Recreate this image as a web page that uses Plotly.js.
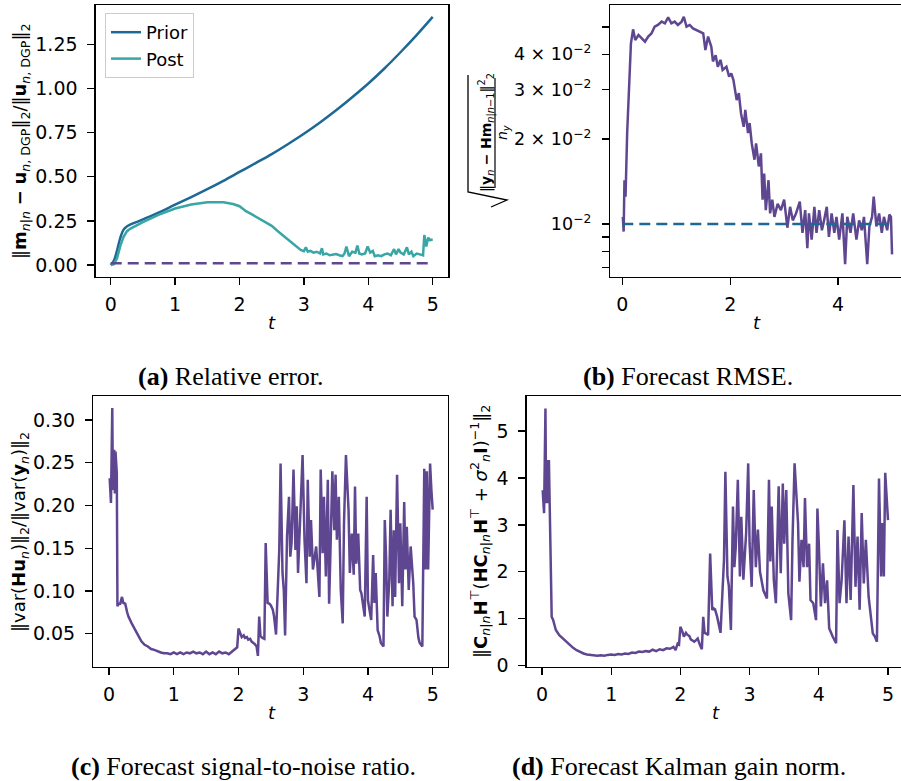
<!DOCTYPE html>
<html>
<head>
<meta charset="utf-8">
<script src="https://cdn.plot.ly/plotly-3.0.1.min.js"></script>
<style>
html,body{margin:0;padding:0;overflow:hidden;background:#fff;}
#chart{width:910px;height:781px;}
</style>
</head>
<body>
<div id="chart"></div>
<script>
// ---------- data ----------
// (a) relative error
const tPrior = [0, 0.05, 0.1, 0.15, 0.2, 0.25, 0.3, 0.4, 0.5, 0.75, 1.0, 1.25, 1.5, 1.75, 2.0, 2.25, 2.5, 2.75, 3.0, 3.25, 3.5, 3.75, 4.0, 4.25, 4.5, 4.75, 5.0];
const priorErr = [0.0, 0.025, 0.085, 0.155, 0.2, 0.218, 0.228, 0.243, 0.258, 0.298, 0.342, 0.385, 0.43, 0.477, 0.527, 0.577, 0.628, 0.684, 0.743, 0.807, 0.876, 0.95, 1.028, 1.113, 1.205, 1.302, 1.405];
const tPost = [0, 0.05, 0.1, 0.15, 0.2, 0.25, 0.3, 0.4, 0.5, 0.75, 1.0, 1.25, 1.5, 1.75, 1.9, 2.0, 2.05, 2.1, 2.2, 2.3, 2.4, 2.5, 2.6, 2.7, 2.8, 2.85, 2.9, 2.95, 3.0, 3.03, 3.06, 3.1, 3.15, 3.2, 3.25, 3.28, 3.3, 3.35, 3.4, 3.45, 3.5, 3.55, 3.6, 3.63, 3.66, 3.7, 3.75, 3.8, 3.83, 3.86, 3.9, 3.95, 3.99, 4.03, 4.07, 4.1, 4.15, 4.2, 4.25, 4.3, 4.35, 4.4, 4.43, 4.47, 4.5, 4.55, 4.6, 4.63, 4.67, 4.7, 4.75, 4.8, 4.85, 4.87, 4.9, 4.93, 4.96, 5.0];
const postErr = [0.0, 0.005, 0.04, 0.11, 0.16, 0.19, 0.205, 0.225, 0.243, 0.285, 0.32, 0.343, 0.355, 0.355, 0.345, 0.333, 0.32, 0.305, 0.285, 0.265, 0.245, 0.222, 0.19, 0.16, 0.13, 0.11, 0.095, 0.085, 0.078, 0.1, 0.075, 0.08, 0.07, 0.075, 0.065, 0.095, 0.06, 0.065, 0.055, 0.06, 0.062, 0.055, 0.05, 0.065, 0.105, 0.05, 0.075, 0.07, 0.11, 0.065, 0.06, 0.065, 0.105, 0.07, 0.08, 0.05, 0.055, 0.05, 0.06, 0.065, 0.055, 0.09, 0.06, 0.09, 0.07, 0.06, 0.1, 0.06, 0.075, 0.05, 0.065, 0.06, 0.055, 0.17, 0.105, 0.155, 0.14, 0.145];
const tRef = [0, 5];
const refErr = [0.01, 0.01];

// (b) forecast RMSE
const tRmse = [0.01, 0.025, 0.04, 0.06, 0.09, 0.13, 0.16, 0.2, 0.24, 0.3, 0.36, 0.42, 0.48, 0.54, 0.6, 0.66, 0.73, 0.79, 0.85, 0.91, 0.97, 1.03, 1.1, 1.14, 1.19, 1.25, 1.31, 1.37, 1.43, 1.5, 1.54, 1.59, 1.65, 1.68, 1.73, 1.77, 1.82, 1.86, 1.93, 1.98, 2.02, 2.06, 2.12, 2.16, 2.2, 2.25, 2.28, 2.33, 2.36, 2.4, 2.45, 2.48, 2.53, 2.57, 2.6, 2.63, 2.66, 2.71, 2.74, 2.78, 2.82, 2.88, 2.94, 3.0, 3.06, 3.11, 3.16, 3.22, 3.29, 3.34, 3.39, 3.43, 3.46, 3.51, 3.56, 3.6, 3.65, 3.7, 3.74, 3.79, 3.83, 3.88, 3.93, 3.97, 4.02, 4.08, 4.13, 4.17, 4.23, 4.28, 4.34, 4.39, 4.44, 4.48, 4.54, 4.58, 4.63, 4.66, 4.71, 4.76, 4.81, 4.85, 4.91, 4.95, 4.98, 5.0];
const rmse = [0.0106, 0.0094, 0.0143, 0.0125, 0.021, 0.0333, 0.0437, 0.049, 0.0449, 0.0468, 0.0455, 0.0443, 0.0462, 0.0474, 0.0501, 0.0508, 0.0522, 0.0515, 0.054, 0.0515, 0.0522, 0.0508, 0.0522, 0.0543, 0.0501, 0.0508, 0.0494, 0.0487, 0.0481, 0.0474, 0.0414, 0.0462, 0.0425, 0.0377, 0.0397, 0.0361, 0.0382, 0.0352, 0.0361, 0.0333, 0.0342, 0.0324, 0.0275, 0.0291, 0.0247, 0.0221, 0.0254, 0.021, 0.0228, 0.0193, 0.0169, 0.0193, 0.016, 0.0178, 0.0122, 0.0151, 0.0112, 0.0143, 0.0109, 0.0122, 0.0106, 0.0118, 0.0112, 0.0122, 0.0097, 0.0115, 0.0103, 0.0109, 0.012, 0.0093, 0.0112, 0.0082, 0.0109, 0.0088, 0.0115, 0.0093, 0.0112, 0.0095, 0.0103, 0.0115, 0.009, 0.0109, 0.0093, 0.0106, 0.0088, 0.0109, 0.0072, 0.0106, 0.0093, 0.0109, 0.0088, 0.0103, 0.0095, 0.0106, 0.0072, 0.0098, 0.0106, 0.0125, 0.0098, 0.0109, 0.0093, 0.0106, 0.0095, 0.0108, 0.0106, 0.0078];
const refRmse = [0.01, 0.01];
const rmseTickVals = [0.007, 0.008, 0.009, 0.01, 0.02, 0.03, 0.04, 0.05, 0.06];
const rmseTickText = ['', '', '', '10<sup>−2</sup>', '2 × 10<sup>−2</sup>', '3 × 10<sup>−2</sup>', '4 × 10<sup>−2</sup>', '', ''];

// (c) signal-to-noise ratio
const tSnr = [0.01, 0.03, 0.05, 0.06, 0.08, 0.09, 0.10, 0.12, 0.13, 0.15, 0.17, 0.20, 0.22, 0.25, 0.28, 0.30, 0.35, 0.40, 0.45, 0.50, 0.55, 0.60, 0.65, 0.70, 0.75, 0.80, 0.85, 0.90, 0.95, 1.00, 1.05, 1.10, 1.15, 1.20, 1.25, 1.30, 1.35, 1.40, 1.45, 1.50, 1.55, 1.60, 1.65, 1.70, 1.75, 1.80, 1.85, 1.90, 1.93, 1.96, 1.98, 2.00, 2.03, 2.05, 2.08, 2.10, 2.13, 2.15, 2.18, 2.20, 2.23, 2.25, 2.28, 2.30, 2.32, 2.34, 2.37, 2.40, 2.42, 2.45, 2.48, 2.50, 2.53, 2.55, 2.58, 2.60, 2.63, 2.65, 2.68, 2.70, 2.72, 2.75, 2.78, 2.80, 2.82, 2.85, 2.88, 2.90, 2.92, 2.95, 2.99, 3.02, 3.05, 3.07, 3.10, 3.12, 3.15, 3.20, 3.25, 3.27, 3.30, 3.32, 3.35, 3.38, 3.40, 3.42, 3.45, 3.48, 3.50, 3.52, 3.55, 3.58, 3.61, 3.63, 3.66, 3.70, 3.72, 3.75, 3.78, 3.80, 3.82, 3.85, 3.88, 3.90, 3.95, 3.98, 4.00, 4.05, 4.08, 4.10, 4.12, 4.15, 4.18, 4.20, 4.24, 4.26, 4.28, 4.30, 4.33, 4.35, 4.38, 4.40, 4.42, 4.45, 4.48, 4.50, 4.53, 4.56, 4.58, 4.60, 4.63, 4.66, 4.70, 4.72, 4.75, 4.78, 4.80, 4.84, 4.87, 4.89, 4.91, 4.93, 4.96, 4.98, 5.00];
const snr = [0.232, 0.203, 0.314, 0.218, 0.265, 0.214, 0.263, 0.238, 0.082, 0.086, 0.084, 0.093, 0.086, 0.085, 0.075, 0.070, 0.062, 0.054, 0.048, 0.041, 0.037, 0.035, 0.032, 0.031, 0.029, 0.028, 0.027, 0.027, 0.026, 0.028, 0.026, 0.028, 0.026, 0.028, 0.027, 0.029, 0.027, 0.028, 0.026, 0.029, 0.026, 0.028, 0.026, 0.029, 0.027, 0.028, 0.026, 0.029, 0.031, 0.033, 0.034, 0.056, 0.050, 0.046, 0.048, 0.045, 0.046, 0.043, 0.044, 0.041, 0.039, 0.038, 0.035, 0.024, 0.070, 0.047, 0.045, 0.044, 0.156, 0.086, 0.085, 0.083, 0.078, 0.070, 0.049, 0.097, 0.148, 0.249, 0.121, 0.101, 0.048, 0.164, 0.210, 0.140, 0.156, 0.242, 0.148, 0.199, 0.121, 0.179, 0.259, 0.160, 0.109, 0.230, 0.140, 0.183, 0.125, 0.152, 0.093, 0.242, 0.144, 0.210, 0.117, 0.230, 0.085, 0.144, 0.240, 0.171, 0.236, 0.160, 0.210, 0.101, 0.062, 0.179, 0.259, 0.195, 0.121, 0.167, 0.119, 0.222, 0.132, 0.167, 0.101, 0.097, 0.070, 0.210, 0.089, 0.066, 0.142, 0.086, 0.121, 0.054, 0.047, 0.039, 0.035, 0.183, 0.140, 0.070, 0.113, 0.195, 0.082, 0.171, 0.093, 0.236, 0.109, 0.179, 0.082, 0.204, 0.125, 0.175, 0.101, 0.152, 0.109, 0.070, 0.066, 0.045, 0.039, 0.035, 0.243, 0.125, 0.240, 0.125, 0.249, 0.218, 0.195];

// (d) Kalman gain norm
const tGain = [0.01, 0.03, 0.05, 0.06, 0.08, 0.09, 0.10, 0.12, 0.14, 0.16, 0.20, 0.25, 0.30, 0.35, 0.40, 0.45, 0.50, 0.55, 0.60, 0.65, 0.70, 0.75, 0.80, 0.85, 0.90, 0.95, 1.00, 1.05, 1.10, 1.15, 1.20, 1.25, 1.30, 1.35, 1.40, 1.45, 1.50, 1.55, 1.60, 1.65, 1.70, 1.75, 1.80, 1.85, 1.90, 1.93, 1.96, 1.98, 2.00, 2.03, 2.05, 2.08, 2.10, 2.13, 2.15, 2.18, 2.20, 2.23, 2.25, 2.28, 2.31, 2.33, 2.35, 2.38, 2.40, 2.43, 2.46, 2.48, 2.50, 2.53, 2.55, 2.58, 2.60, 2.63, 2.65, 2.68, 2.70, 2.73, 2.76, 2.78, 2.80, 2.83, 2.86, 2.88, 2.91, 2.95, 2.98, 3.00, 3.03, 3.06, 3.09, 3.12, 3.15, 3.20, 3.25, 3.28, 3.30, 3.32, 3.35, 3.38, 3.42, 3.45, 3.48, 3.50, 3.53, 3.56, 3.60, 3.62, 3.65, 3.70, 3.72, 3.75, 3.78, 3.80, 3.83, 3.86, 3.88, 3.92, 3.96, 3.98, 4.00, 4.03, 4.06, 4.09, 4.12, 4.15, 4.20, 4.25, 4.27, 4.30, 4.33, 4.37, 4.40, 4.43, 4.46, 4.50, 4.53, 4.56, 4.59, 4.62, 4.65, 4.68, 4.72, 4.75, 4.78, 4.81, 4.84, 4.87, 4.90, 4.92, 4.94, 4.96, 4.98, 5.00];
const gainNorm = [3.74, 3.25, 5.48, 3.46, 4.38, 3.46, 4.38, 2.9, 1.04, 0.98, 0.76, 0.65, 0.58, 0.5, 0.44, 0.38, 0.33, 0.29, 0.26, 0.24, 0.23, 0.22, 0.21, 0.22, 0.21, 0.23, 0.24, 0.23, 0.25, 0.24, 0.26, 0.25, 0.28, 0.27, 0.30, 0.29, 0.31, 0.30, 0.34, 0.31, 0.35, 0.33, 0.37, 0.36, 0.40, 0.33, 0.47, 0.45, 0.83, 0.72, 0.62, 0.70, 0.66, 0.63, 0.56, 0.53, 0.51, 0.55, 0.58, 0.45, 0.35, 1.04, 0.70, 0.68, 0.65, 2.39, 1.19, 1.22, 1.20, 1.05, 0.90, 0.70, 1.33, 2.25, 4.13, 1.90, 1.70, 0.76, 3.39, 2.10, 2.53, 3.96, 1.90, 3.17, 1.83, 2.83, 4.31, 2.60, 1.68, 3.74, 2.10, 2.90, 2.00, 1.60, 1.43, 3.96, 2.22, 3.39, 1.82, 1.33, 3.82, 1.97, 3.88, 2.60, 3.74, 1.54, 0.97, 2.68, 4.31, 3.04, 1.79, 2.68, 2.10, 3.57, 2.10, 2.60, 1.40, 1.33, 0.97, 3.35, 2.60, 1.26, 2.18, 1.33, 1.82, 0.80, 0.62, 0.48, 2.89, 1.33, 1.82, 3.10, 1.33, 2.75, 1.40, 3.85, 1.68, 2.75, 1.19, 3.25, 1.75, 2.68, 1.47, 1.04, 0.69, 0.62, 0.51, 3.99, 1.90, 3.04, 1.90, 4.11, 3.50, 3.10];

// ---------- helpers ----------
const W = 910, H = 781;
const X = p => p / W;
const Y = p => 1 - p / H;

const PURPLE = '#5F4690', BLUE = '#1D6996', TEAL = '#38A6A5';
const LW = 2.5;
const DASH = '11px,6px';
const tickFont = {family: 'DejaVu Sans', size: 19, color: '#000'};

function axis(extra) {
  return Object.assign({
    showgrid: false, zeroline: false, showline: true, mirror: true,
    linecolor: '#000', linewidth: 1.3, ticks: 'outside', ticklen: 7,
    tickwidth: 1.3, tickcolor: '#000', tickfont: tickFont, automargin: false
  }, extra);
}

const traces = [
  {x: tPrior, y: priorErr, xaxis: 'x', yaxis: 'y', name: 'Prior', mode: 'lines', line: {color: BLUE, width: LW, shape: 'spline'}},
  {x: tPost, y: postErr, xaxis: 'x', yaxis: 'y', name: 'Post', mode: 'lines', line: {color: TEAL, width: LW}},
  {x: tRef, y: refErr, xaxis: 'x', yaxis: 'y', showlegend: false, mode: 'lines', line: {color: PURPLE, width: LW, dash: DASH}},
  {x: tRmse, y: rmse, xaxis: 'x2', yaxis: 'y2', showlegend: false, mode: 'lines', line: {color: PURPLE, width: LW}},
  {x: tRef, y: refRmse, xaxis: 'x2', yaxis: 'y2', showlegend: false, mode: 'lines', line: {color: BLUE, width: LW, dash: DASH}},
  {x: tSnr, y: snr, xaxis: 'x3', yaxis: 'y3', showlegend: false, mode: 'lines', line: {color: PURPLE, width: LW}},
  {x: tGain, y: gainNorm, xaxis: 'x4', yaxis: 'y4', showlegend: false, mode: 'lines', line: {color: PURPLE, width: LW}}
];

const topDom = [Y(277), Y(5)];
const botDom = [Y(667), Y(396)];

const annFont = {family: 'DejaVu Sans', size: 18, color: '#000'};
const capFont = {family: 'Liberation Serif', size: 26, color: '#000'};
const smallFont = {family: 'DejaVu Sans', size: 14, color: '#000'};
function ann(text, x, y, opts) {
  return Object.assign({text: text, x: X(x), y: Y(y), xref: 'paper', yref: 'paper', showarrow: false, xanchor: 'center', yanchor: 'middle', font: annFont}, opts || {});
}

const annotations = [
  // x titles
  ann('<i>t</i>', 272, 322),
  ann('<i>t</i>', 757, 322),
  ann('<i>t</i>', 272, 712),
  ann('<i>t</i>', 716, 712),
  // y titles
  ann('‖<b>m</b><sub><i>n</i>|<i>n</i></sub> <b>−</b> <b>u</b><sub><i>n</i>, DGP</sub>‖<sub>2</sub>/‖<b>u</b><sub><i>n</i>, DGP</sub>‖<sub>2</sub>', 21, 142, {textangle: -90}),
  ann('‖var(<b>Hu</b><sub><i>n</i></sub>)‖<sub>2</sub>/‖var(<b>y</b><sub><i>n</i></sub>)‖<sub>2</sub>', 20, 532, {textangle: -90}),
  ann('‖<b>C</b><sub><i>n</i>|<i>n</i></sub><b>H</b><sup>⊤</sup>(<b>HC</b><sub><i>n</i>|<i>n</i></sub><b>H</b><sup>⊤</sup> + <i>σ</i><sup>2</sup><sub><i>n</i></sub><b>I</b>)<sup>−1</sup>‖<sub>2</sub>', 480, 532, {textangle: -90}),
  // (b) sqrt fraction pieces
  ann('‖<b>y</b><sub><i>n</i></sub> <b>−</b> <b>Hm</b><sub><i>n</i>|<i>n</i>−1</sub>‖<sup>2</sup><sub>2</sub>', 486, 133, {textangle: -90, font: smallFont}),
  ann('<i>n<sub>y</sub></i>', 503, 133, {textangle: -90, font: smallFont}),
  // captions
  ann('<b>(a)</b> Relative error.', 231, 376, {font: capFont}),
  ann('<b>(b)</b> Forecast RMSE.', 688, 376, {font: capFont}),
  ann('<b>(c)</b> Forecast signal-to-noise ratio.', 243, 766, {font: capFont}),
  ann('<b>(d)</b> Forecast Kalman gain norm.', 679, 766, {font: capFont})
];

const shapes = [
  {type: 'line', xref: 'paper', yref: 'paper', x0: X(495), x1: X(495), y0: Y(78), y1: Y(188), line: {color: '#000', width: 1.2}},
  {type: 'path', xref: 'paper', yref: 'paper',
   path: 'M ' + X(468) + ',' + Y(75) + ' L ' + X(468) + ',' + Y(192) + ' L ' + X(507) + ',' + Y(200) + ' L ' + X(491) + ',' + Y(207),
   line: {color: '#000', width: 1.3}}
];

const layout = {
  width: W, height: H,
  margin: {l: 0, r: 0, t: 0, b: 0, pad: 0},
  paper_bgcolor: '#fff', plot_bgcolor: '#fff',
  showlegend: true,
  legend: {x: X(105), y: Y(13), xanchor: 'left', yanchor: 'top', bgcolor: 'rgba(255,255,255,0.85)', bordercolor: '#cccccc', borderwidth: 1, font: {family: 'DejaVu Sans', size: 18, color: '#000'}},
  xaxis: axis({domain: [X(95.7), X(448.3)], range: [-0.233, 5.242], dtick: 1, tick0: 0, anchor: 'y', ticklabelstandoff: 3}),
  yaxis: axis({domain: topDom, range: [-0.068, 1.4726], dtick: 0.25, tick0: 0, tickformat: '.2f', anchor: 'x', ticklabelstandoff: 6}),
  xaxis2: axis({domain: [X(610), X(905.8)], range: [-0.228, 5.255], dtick: 2, tick0: 0, anchor: 'y2', ticklabelstandoff: 3}),
  yaxis2: axis({domain: topDom, type: 'log', range: [-2.188, -1.2234], tickmode: 'array', tickvals: rmseTickVals, ticktext: rmseTickText, anchor: 'x2', ticklabelstandoff: 7, tickfont: {family: 'DejaVu Sans', size: 17.5, color: '#000'}}),
  xaxis3: axis({domain: [X(93.3), X(447.7)], range: [-0.243, 5.232], dtick: 1, tick0: 0, anchor: 'y3', ticklabelstandoff: 3}),
  yaxis3: axis({domain: botDom, range: [0.011, 0.328], dtick: 0.05, tick0: 0, tickformat: '.2f', anchor: 'x3', ticklabelstandoff: 6}),
  xaxis4: axis({domain: [X(526.7), X(905.3)], range: [-0.221, 5.25], dtick: 1, tick0: 0, anchor: 'y4', ticklabelstandoff: 3}),
  yaxis4: axis({domain: botDom, range: [-0.028, 5.746], dtick: 1, tick0: 0, anchor: 'x4', ticklabelstandoff: 6}),
  annotations: annotations,
  shapes: shapes
};

Plotly.newPlot('chart', traces, layout, {staticPlot: true, displayModeBar: false});
</script>
</body>
</html>
